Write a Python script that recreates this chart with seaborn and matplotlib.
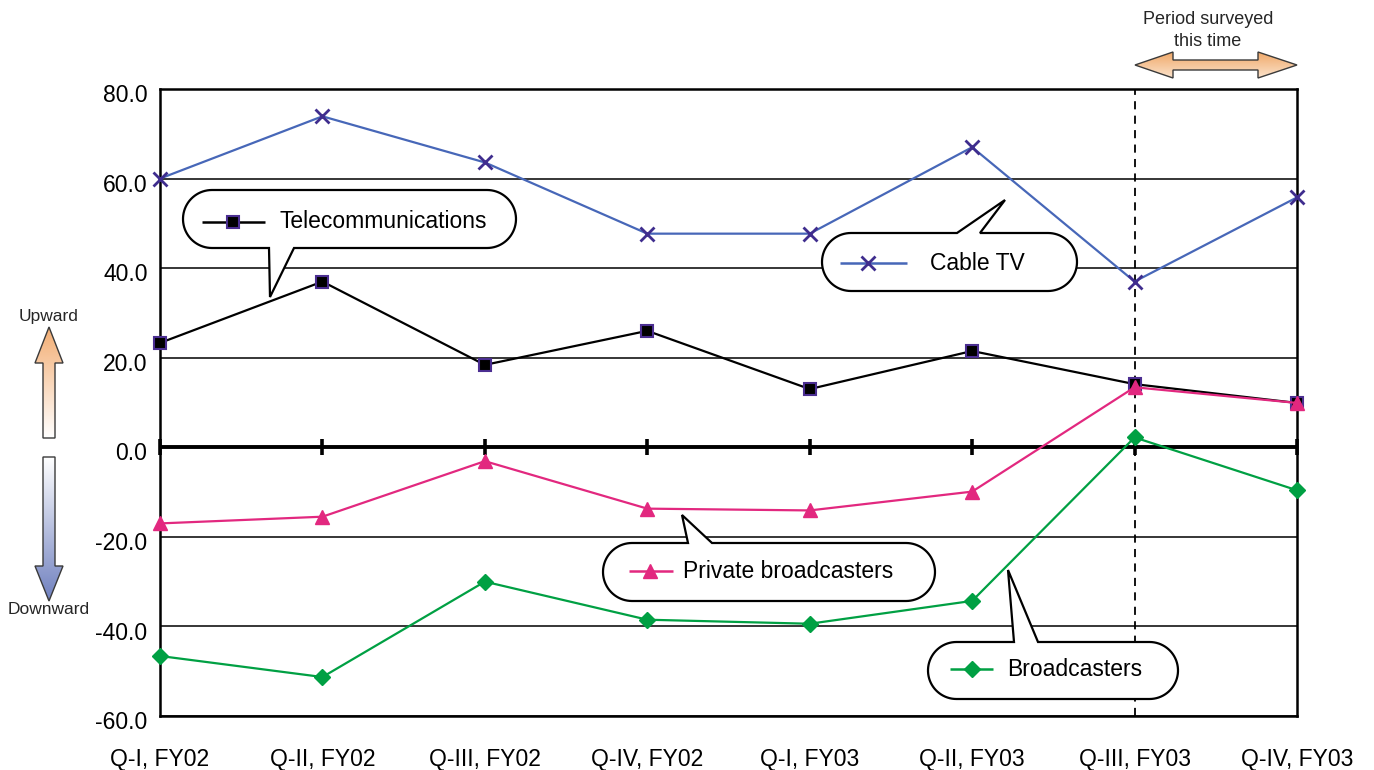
import numpy as np
import matplotlib
matplotlib.use("Agg")
import matplotlib.pyplot as plt
import matplotlib.transforms as mtransforms
import seaborn as sns
from matplotlib.patches import Polygon
from matplotlib.colors import LinearSegmentedColormap

# ---- data -----------------------------------------------------------------
quarters = ["Q-I, FY02", "Q-II, FY02", "Q-III, FY02", "Q-IV, FY02",
            "Q-I, FY03", "Q-II, FY03", "Q-III, FY03", "Q-IV, FY03"]
cable_tv = [60.0, 73.9, 63.6, 47.7, 47.7, 67.0, 37.0, 55.8]
telecom = [23.3, 37.0, 18.4, 26.0, 13.0, 21.5, 14.1, 9.9]
private_bc = [-17.0, -15.5, -3.1, -13.7, -14.1, -9.9, 13.4, 9.9]
broadcasters = [-46.6, -51.3, -30.0, -38.5, -39.4, -34.3, 2.2, -9.6]
y_ticks = [-60, -40, -20, 0, 20, 40, 60, 80]
survey_start = "Q-III, FY03"

# ---- style ----------------------------------------------------------------
sns.set_theme(style="white")
plt.rcParams["font.family"] = ["Liberation Sans", "DejaVu Sans"]

W, H = 1374, 770
fig = plt.figure(figsize=(W / 100, H / 100), dpi=100)
fig.patch.set_facecolor("white")
ax = fig.add_axes([160 / W, 1 - 716 / H, (1297 - 160) / W, (716 - 89) / H])

series = {
    "Cable TV": dict(y=cable_tv, color="#4767B8", marker="x", ms=10,
                     mfc="#3F2D8E", mec="#3F2D8E", mew=2.0),
    "Telecommunications": dict(y=telecom, color="black", marker="s", ms=9,
                               mfc="black", mec="#4B2E91", mew=1.5),
    "Private broadcasters": dict(y=private_bc, color="#E2287F", marker="^", ms=10,
                                 mfc="#E2287F", mec="#E2287F", mew=1.0),
    "Broadcasters": dict(y=broadcasters, color="#00A043", marker="D", ms=8,
                         mfc="#00A043", mec="#00A043", mew=1.0),
}

xpos = np.arange(len(quarters))
for z, (name, s) in enumerate(series.items()):
    sns.lineplot(x=xpos, y=s["y"], ax=ax, color=s["color"], linewidth=1.6,
                 marker=s["marker"], markersize=s["ms"],
                 markerfacecolor=s["mfc"], markeredgecolor=s["mec"],
                 markeredgewidth=s["mew"], legend=False, sort=False,
                 clip_on=False, zorder=4 + z)

ax.set_xlim(0, len(quarters) - 1)
ax.set_ylim(min(y_ticks), max(y_ticks))
ax.set_yticks(y_ticks)
ax.set_yticklabels([f"{v:.1f}" for v in y_ticks])
ax.set_xticks(xpos)
ax.set_xticklabels(quarters)
ax.set_xlabel("")
ax.set_ylabel("")
ax.tick_params(axis="y", length=0, pad=9, labelsize=16.5, labelcolor="black")
ax.tick_params(axis="x", length=0, pad=23, labelsize=16.5, labelcolor="black")
# value labels sit a little below their gridlines
shift = mtransforms.ScaledTranslation(0, -3 / 72, fig.dpi_scale_trans)
for lbl in ax.get_yticklabels():
    lbl.set_transform(lbl.get_transform() + shift)
ax.grid(axis="y", color="black", linewidth=1.1)
ax.grid(axis="x", visible=False)
ax.set_axisbelow(True)
for sp in ax.spines.values():
    sp.set_visible(True)
    sp.set_color("black")
    sp.set_linewidth(1.8)

# zero (category) axis with tick marks
ax.axhline(0, color="black", linewidth=2.8, zorder=3)
zero_frac = (0 - min(y_ticks)) / (max(y_ticks) - min(y_ticks))
sec = ax.secondary_xaxis(zero_frac)
sec.set_xticks(xpos)
sec.tick_params(axis="x", direction="inout", length=11, width=2.6,
                labelbottom=False, labeltop=False, color="black")
for sp in sec.spines.values():
    sp.set_visible(False)

# start of the surveyed period
ax.axvline(quarters.index(survey_start), color="black", linewidth=1.3,
           linestyle=(0, (4.5, 3.5)), zorder=3)

# ---- overlay in pixel coordinates for callouts and arrows -----------------
ov = fig.add_axes([0, 0, 1, 1], zorder=10)
ov.patch.set_alpha(0)
ov.axis("off")


def callout(x0, y0, x1, y1, base, tip, side):
    r = (y1 - y0) / 2
    yc = (y0 + y1) / 2
    pts = [(x0 + r, y0)]
    if side == "top":
        pts += [(base[0], y0), tip, (base[1], y0)]
    pts.append((x1 - r, y0))
    for a in np.radians(np.linspace(-90, 90, 40)):
        pts.append((x1 - r + r * np.cos(a), yc + r * np.sin(a)))
    if side == "bottom":
        pts += [(base[1], y1), tip, (base[0], y1)]
    pts.append((x0 + r, y1))
    for a in np.radians(np.linspace(90, 270, 40)):
        pts.append((x0 + r + r * np.cos(a), yc + r * np.sin(a)))
    ov.add_patch(Polygon(pts, closed=True, facecolor="white", edgecolor="black",
                         linewidth=1.6, joinstyle="miter", zorder=3))


def legend_sample(name, x0, x1, xm, y, xt):
    s = series[name]
    ov.plot([x0, x1], [y, y], color=s["color"], linewidth=1.8, zorder=4,
            solid_capstyle="butt")
    ov.plot([xm], [y], marker=s["marker"], markersize=s["ms"],
            markerfacecolor=s["mfc"], markeredgecolor=s["mec"],
            markeredgewidth=s["mew"], zorder=5, linestyle="none")
    ov.text(xt, y, name, ha="left", va="center", fontsize=16.5,
            color="black", zorder=5)


callout(183, 190, 516, 248, (269, 294), (270, 297), "bottom")
legend_sample("Telecommunications", 202, 265, 233, 222, 279)

callout(822, 233, 1077, 291, (957, 980), (1005, 200), "top")
legend_sample("Cable TV", 840, 907, 868, 263, 930)

callout(603, 543, 935, 601, (688, 712), (682, 515), "top")
legend_sample("Private broadcasters", 629, 673, 650, 571, 683)

callout(928, 642, 1178, 699, (1014, 1038), (1008, 570), "top")
legend_sample("Broadcasters", 950, 993, 972, 669, 1007)


def gradient_arrow(pts, c_top, c_bottom):
    xs, ys = zip(*pts)
    cmap = LinearSegmentedColormap.from_list("fill", [c_top, c_bottom])
    grad = np.linspace(0, 1, 256).reshape(-1, 1)
    im = ov.imshow(grad, cmap=cmap, aspect="auto", zorder=2,
                   extent=(min(xs), max(xs), max(ys), min(ys)))
    poly = Polygon(pts, closed=True, facecolor="none", edgecolor="#3A3A3A",
                   linewidth=1.0, zorder=3)
    ov.add_patch(poly)
    im.set_clip_path(poly)


gradient_arrow([(49, 327), (63, 363), (55, 363), (55, 438), (43, 438),
                (43, 363), (35, 363)], "#F3AE74", "#FFFFFF")
gradient_arrow([(43, 457), (55, 457), (55, 566), (63, 566), (49, 601),
                (35, 566), (43, 566)], "#FFFFFF", "#6F80BF")
ov.text(49, 316, "Upward", ha="center", va="center", fontsize=12.5)
ov.text(49, 609, "Downward", ha="center", va="center", fontsize=12.5)

gradient_arrow([(1135, 65), (1173, 52), (1173, 60), (1258, 60), (1258, 52),
                (1297, 65), (1258, 78), (1258, 70), (1173, 70), (1173, 78)],
               "#F0A868", "#FBE3CC")
ov.text(1208, 19, "Period surveyed", ha="center", va="center", fontsize=13)
ov.text(1208, 42, "this time", ha="center", va="center", fontsize=13)

ov.set_xlim(0, W)
ov.set_ylim(H, 0)

fig.savefig("out.png", dpi=100, facecolor="white")
